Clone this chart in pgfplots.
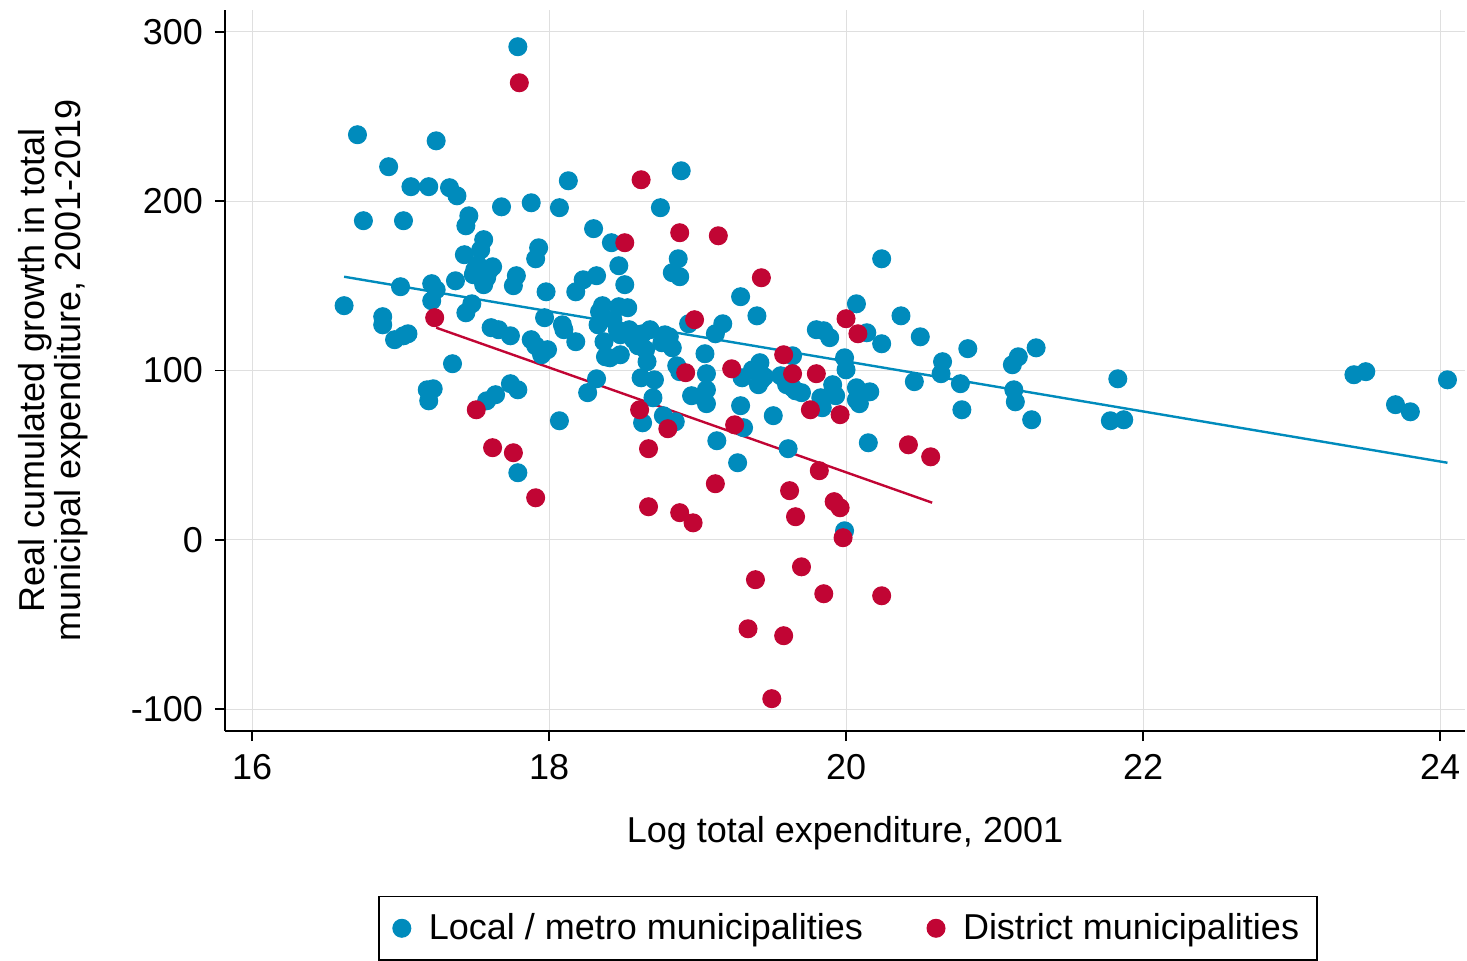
\documentclass[border=0pt]{standalone}
\usepackage{pgfplots}
\pgfplotsset{compat=1.18}
\usepackage{fontspec}
\setmainfont{Liberation Sans}
\definecolor{cblue}{RGB}{0,139,188}
\definecolor{cred}{RGB}{193,5,52}
\newcommand{\chartfont}{\fontsize{18}{21.6}\selectfont}
\begin{document}
\begin{tikzpicture}
\begin{axis}[
  name=ax,
  scale only axis,
  width=620pt, height=360.5pt,
  xmin=15.818, xmax=24.168,
  ymin=-113, ymax=313,
  xtick={16,18,20,22,24},
  ytick={-100,0,100,200,300},
  axis x line*=bottom, axis y line*=left,
  axis line style={-, line width=1pt, black},
  tick align=outside,
  major tick length=5pt,
  tick style={black, line width=0.75pt},
  grid=major,
  grid style={gray!25, line width=0.5pt},
  /pgf/number format/assume math mode=true,
  every tick label/.append style={font=\chartfont},
  xticklabel style={yshift=-3pt},
  yticklabel style={xshift=-2.5pt},
  label style={font=\chartfont},
  xlabel={Log total expenditure, 2001},
  xlabel style={at={(axis description cs:0.5,-0.142)}, anchor=center},
  ylabel={Real cumulated growth in total\\municipal expenditure, 2001-2019},
  ylabel style={align=center, font=\fontsize{18}{18}\selectfont, at={(axis description cs:-0.1383,0.5)}, anchor=center},
  legend style={at={(0.5024,-0.2288)}, anchor=north, legend columns=2,
    draw=black, line width=0.75pt, font=\chartfont,
    /tikz/every even column/.append style={column sep=30pt},
    inner xsep=7pt, inner ysep=6.5pt},
  legend cell align=left,
]
\addplot[only marks, mark=*, color=cblue, mark size=4.5pt, mark options={solid, fill=cblue, draw=cblue, line width=0.5pt}] coordinates {
(16.62,138.3) (16.71,239.3) (16.75,188.5) (16.88,131.8) (16.88,127.0) (16.92,220.4)
(16.96,118.2) (17.00,149.5) (17.02,188.5) (17.02,120.5) (17.05,121.7) (17.07,208.6)
(17.19,208.6) (17.21,151.3) (17.21,141.2) (17.24,147.7) (17.18,88.6) (17.22,89.2)
(17.19,82.1) (17.24,235.7) (17.33,208.0) (17.38,203.2) (17.35,104.0) (17.37,153.0)
(17.43,168.4) (17.44,185.5) (17.46,191.4) (17.44,134.1) (17.48,139.4) (17.49,156.6)
(17.52,162.5) (17.54,171.3) (17.56,177.3) (17.50,159.5) (17.56,150.7) (17.58,154.8)
(17.60,159.5) (17.62,161.3) (17.58,82.1) (17.64,85.7) (17.61,125.3) (17.68,196.7)
(17.66,124.1) (17.74,120.5) (17.76,150.1) (17.78,156.0) (17.74,92.2) (17.79,88.6)
(17.79,39.6) (17.79,291.3) (17.88,199.1) (17.91,166.0) (17.93,172.5) (17.88,118.2)
(17.91,114.6) (17.95,109.3) (17.97,131.2) (17.98,146.5) (17.99,112.3) (18.07,196.2)
(18.09,127.0) (18.10,124.1) (18.13,212.1) (18.07,70.3) (18.18,117.0) (18.18,146.5)
(18.23,153.6) (18.26,86.9) (18.32,95.1) (18.30,183.8) (18.32,156.0) (18.33,127.0)
(18.36,138.3) (18.34,134.7) (18.37,117.0) (18.38,108.1) (18.41,107.5) (18.42,175.5)
(18.43,130.0) (18.46,124.1) (18.47,161.9) (18.47,137.7) (18.48,109.3) (18.48,121.1)
(18.51,150.7) (18.53,137.1) (18.54,124.1) (18.57,118.2) (18.60,114.6) (18.62,95.7)
(18.63,121.7) (18.65,112.3) (18.66,105.2) (18.68,124.1) (18.70,83.9) (18.71,94.5)
(18.75,196.2) (18.76,116.4) (18.78,121.1) (18.81,119.9) (18.83,113.4) (18.83,157.8)
(18.89,218.0) (18.87,166.0) (18.88,155.4) (18.86,102.8) (18.88,99.3) (18.63,69.1)
(18.77,73.3) (18.85,69.7) (18.94,127.6) (18.96,85.1) (19.04,83.9) (19.05,109.9)
(19.06,98.1) (19.06,80.4) (19.06,88.6) (19.13,58.5) (19.12,121.7) (19.17,127.6)
(19.27,45.5) (19.29,143.6) (19.29,79.2) (19.30,95.7) (19.31,66.2) (19.37,100.4)
(19.40,132.3) (19.41,91.6) (19.42,104.6) (19.43,94.5) (19.45,96.3) (19.51,73.3)
(19.56,96.9) (19.60,91.6) (19.61,53.8) (19.64,108.7) (19.64,89.8) (19.66,88.0)
(19.70,86.9) (19.80,124.1) (19.85,123.5) (19.84,78.0) (19.83,83.9) (19.89,119.4)
(19.91,91.6) (19.93,85.1) (19.99,107.5) (20.00,100.4) (19.99,5.3) (20.07,139.4)
(20.07,82.7) (20.07,89.8) (20.08,88.0) (20.09,80.4) (20.14,122.3) (20.15,57.3)
(20.16,87.4) (20.24,166.0) (20.24,115.8) (20.37,132.3) (20.46,93.4) (20.50,119.9)
(20.65,105.2) (20.64,98.1) (20.77,92.2) (20.78,76.8) (20.82,112.9) (21.12,103.4)
(21.16,108.1) (21.13,88.6) (21.14,81.5) (21.25,70.9) (21.28,113.4) (21.78,70.3)
(21.83,95.1) (21.87,70.9) (23.42,97.5) (23.50,99.3) (23.70,79.8) (23.80,75.6)
(24.05,94.5)
};
\addlegendentry{\hspace{7pt}Local / metro municipalities}
\addplot[only marks, mark=*, color=cred, mark size=4.5pt, mark options={solid, fill=cred, draw=cred, line width=0.5pt}] coordinates {
(17.80,270.0) (17.23,131.2) (17.51,76.8) (17.62,54.4) (17.76,51.4) (17.91,24.8)
(18.62,212.7) (18.51,175.5) (18.88,181.4) (19.14,179.6) (19.43,154.8) (18.98,130.0)
(18.92,98.7) (19.23,101.0) (19.25,67.9) (18.61,76.8) (18.80,65.6) (18.67,53.8)
(18.67,19.5) (18.88,16.0) (18.97,10.0) (19.12,33.1) (19.58,109.3) (19.64,98.1)
(19.80,98.1) (19.76,76.8) (19.96,73.9) (20.00,130.6) (20.08,121.7) (19.82,40.8)
(19.62,29.0) (19.66,13.6) (19.92,22.5) (19.96,18.9) (19.98,1.2) (19.39,-23.6)
(19.70,-16.0) (19.85,-31.9) (19.34,-52.6) (19.58,-56.7) (19.50,-93.9) (20.24,-33.1)
(20.42,56.1) (20.57,49.0)
};
\addlegendentry{\hspace{7pt}District municipalities\hspace{3pt}}
\addplot[cblue, line width=1.2pt, forget plot] coordinates {(16.62,155.4) (24.05,45.5)};
\addplot[cred, line width=1.2pt, forget plot] coordinates {(17.24,125.3) (20.58,21.9)};
\end{axis}
\pgfresetboundingbox
\path[use as bounding box] (-112.5pt,-114.5pt) rectangle (621pt,365.5pt);
\end{tikzpicture}
\end{document}
